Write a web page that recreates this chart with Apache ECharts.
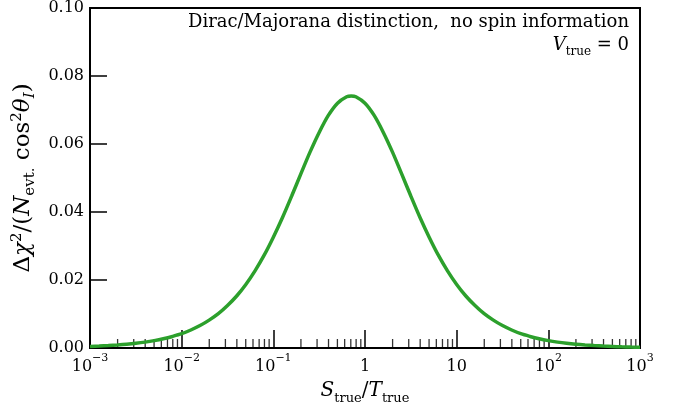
<!DOCTYPE html>
<html>
<head>
<meta charset="utf-8">
<script src="https://cdn.jsdelivr.net/npm/echarts@6/dist/echarts.min.js"></script>
<style>
html,body{margin:0;padding:0;background:#fff;}
#chart{width:677px;height:411px;}
</style>
</head>
<body>
<div id="chart"></div>
<script>
// ---- data ----
// x positions given as log10(S_true/T_true)
const xLog10 = [-3.0, -2.9, -2.8, -2.7, -2.6, -2.5, -2.4, -2.3, -2.2, -2.1,
  -2.0, -1.9, -1.8, -1.7, -1.6, -1.5, -1.4, -1.3, -1.2, -1.1,
  -1.0, -0.9, -0.8, -0.7, -0.6, -0.5, -0.4, -0.3, -0.2, -0.15, -0.1,
  0.0, 0.1, 0.2, 0.3, 0.4, 0.5, 0.6, 0.7, 0.8, 0.9,
  1.0, 1.1, 1.2, 1.3, 1.4, 1.5, 1.6, 1.7, 1.8, 1.9,
  2.0, 2.1, 2.2, 2.3, 2.4, 2.5, 2.6, 2.7, 2.8, 2.9, 3.0];
const yValues = [0.00045, 0.00056, 0.00070, 0.00088, 0.00110, 0.00138, 0.00173, 0.00217, 0.00272, 0.0034,
  0.0042, 0.0053, 0.0066, 0.0082, 0.0101, 0.0125, 0.0153, 0.0187, 0.0227, 0.0273,
  0.0326, 0.0384, 0.0447, 0.0512, 0.0576, 0.0634, 0.0684, 0.0720, 0.0739, 0.0741, 0.0739,
  0.0720, 0.0684, 0.0634, 0.0576, 0.0512, 0.0447, 0.0384, 0.0326, 0.0273, 0.0227,
  0.0187, 0.0153, 0.0125, 0.0101, 0.0082, 0.0066, 0.0053, 0.0042, 0.0034, 0.00272,
  0.00217, 0.00173, 0.00138, 0.00110, 0.00088, 0.00070, 0.00056, 0.00045, 0.00035, 0.00028, 0.00023];
const yTicks = [0, 0.02, 0.04, 0.06, 0.08, 0.10];
const xTickExponents = [-3, -2, -1, 0, 1, 2, 3];
const xTickLabels = ['{b|10}{sup|−3}', '{b|10}{sup|−2}', '{b|10}{sup|−1}', '{b|1}', '{b|10}', '{b|10}{sup|2}', '{b|10}{sup|3}'];
const minorMultipliers = [2, 3, 4, 5, 6, 7, 8, 9];
const minorDecades = [0.001, 0.01, 0.1, 1, 10, 100];

const minorTicks = [];
minorDecades.forEach(d => minorMultipliers.forEach(m => minorTicks.push([+(d * m).toPrecision(3), 0])));
const curve = xLog10.map((l, i) => [Math.pow(10, l), yValues[i]]);

const FONT = '"DejaVu Serif", "Liberation Serif", serif';
const chart = echarts.init(document.getElementById('chart'), null, {renderer: 'canvas'});

chart.setOption({
  animation: false,
  backgroundColor: '#fff',
  grid: {left: 90, right: 37, top: 8, bottom: 63, show: true, borderColor: '#000', borderWidth: 2, backgroundColor: 'transparent'},
  xAxis: {
    type: 'log', logBase: 10, min: 0.001, max: 1000,
    axisLine: {show: true, lineStyle: {color: '#000', width: 2}},
    axisTick: {show: true, inside: true, length: 18, lineStyle: {color: '#000', width: 1.5}},
    splitLine: {show: false},
    minorTick: {show: false},
    axisLabel: {
      margin: 5,
      formatter: function (v) {
        const e = Math.round(Math.log10(v));
        const i = xTickExponents.indexOf(e);
        return i >= 0 ? xTickLabels[i] : '';
      },
      rich: {
        b: {fontFamily: FONT, fontSize: 16, color: '#000', lineHeight: 22, verticalAlign: 'bottom'},
        sup: {fontFamily: FONT, fontSize: 11, color: '#000', lineHeight: 13, verticalAlign: 'top'}
      }
    },
    name: '{it|S}{sub|true}{b|/}{it|T}{sub|true}',
    nameLocation: 'middle',
    nameGap: 33,
    nameTextStyle: {
      rich: {
        it: {fontFamily: FONT, fontStyle: 'italic', fontSize: 20, color: '#000', lineHeight: 24, verticalAlign: 'top'},
        b: {fontFamily: FONT, fontSize: 20, color: '#000', lineHeight: 24, verticalAlign: 'top'},
        sub: {fontFamily: FONT, fontSize: 13, color: '#000', lineHeight: 15, verticalAlign: 'bottom'}
      }
    }
  },
  yAxis: {
    type: 'value', min: 0, max: 0.1, interval: 0.02,
    axisLine: {show: true, lineStyle: {color: '#000', width: 2}},
    axisTick: {show: true, inside: true, length: 17, lineStyle: {color: '#000', width: 1.5}},
    splitLine: {show: false},
    axisLabel: {
      margin: 6,
      fontFamily: FONT, fontSize: 16, color: '#000',
      formatter: function (v) {
        const i = yTicks.findIndex(t => Math.abs(t - v) < 1e-9);
        return i >= 0 ? yTicks[i].toFixed(2) : '';
      }
    },
    name: '{b|Δ}{it|χ}{sup|2}{b|/(}{it|N}{sub|evt.}{b| cos}{sup|2}{it|θ}{subit|I}{b|)}',
    nameLocation: 'middle',
    nameRotate: 90,
    nameGap: 44,
    nameTextStyle: {
      rich: {
        it: {fontFamily: FONT, fontStyle: 'italic', fontSize: 23, color: '#000', lineHeight: 28},
        b: {fontFamily: FONT, fontSize: 23, color: '#000', lineHeight: 28},
        sup: {fontFamily: FONT, fontSize: 15, color: '#000', lineHeight: 18, verticalAlign: 'top'},
        sub: {fontFamily: FONT, fontSize: 15, color: '#000', lineHeight: 18, verticalAlign: 'bottom'},
        subit: {fontFamily: FONT, fontStyle: 'italic', fontSize: 15, color: '#000', lineHeight: 18, verticalAlign: 'bottom'}
      }
    }
  },
  graphic: [
    {
      type: 'text', right: 48, top: 13,
      style: {text: 'Dirac/Majorana distinction,  no spin information', fontFamily: FONT, fontSize: 18, fill: '#000'}
    },
    {
      type: 'text', right: 48, top: 36,
      style: {
        text: '{it|V}{sub|true}{b| = 0}',
        rich: {
          it: {fontFamily: FONT, fontStyle: 'italic', fontSize: 18, fill: '#000', lineHeight: 22, verticalAlign: 'top'},
          b: {fontFamily: FONT, fontSize: 18, fill: '#000', lineHeight: 22, verticalAlign: 'top'},
          sub: {fontFamily: FONT, fontSize: 12, fill: '#000', lineHeight: 14, verticalAlign: 'bottom'}
        }
      }
    }
  ],
  series: [
    {
      type: 'scatter',
      data: minorTicks,
      symbol: 'rect',
      symbolSize: [1.3, 9],
      symbolOffset: [0, -4.5],
      itemStyle: {color: '#000'},
      silent: true,
      clip: false,
      z: 3
    },
    {
      type: 'line',
      data: curve,
      smooth: 0.3,
      showSymbol: false,
      lineStyle: {color: '#2ca02c', width: 3.5},
      silent: true,
      z: 4
    }
  ]
});
</script>
</body>
</html>
